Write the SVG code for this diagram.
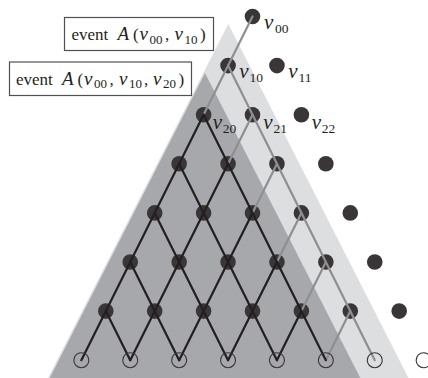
<svg xmlns="http://www.w3.org/2000/svg" width="428" height="378" viewBox="0 0 428 378">
<style>
.bg{fill:#ffffff}
.tl{fill:#dddee0}
.td{fill:#a7a8ab}
.dot{fill:#3a3637}
.leaf{fill:none;stroke:#3a3637;stroke-width:1.1}
.gl{stroke:#8f8f92;stroke-width:2.2;fill:none;stroke-linecap:round}
.bl{stroke:#231f20;stroke-width:2.2;fill:none;stroke-linecap:round}
.box{fill:#ffffff;stroke:#505050;stroke-width:1.2}
.bt{font-family:"Liberation Serif","DejaVu Serif",serif;font-size:17px;fill:#231f20}
.bi{font-style:italic;font-size:19px}
.bs{font-size:13px}
.nl{font-family:"Liberation Serif","DejaVu Serif",serif;font-style:italic;font-size:21px;fill:#231f20}
.ns{font-style:normal;font-size:13.5px}
</style>
<rect class="bg" x="0" y="0" width="428" height="378"/>
<g id="regions">
<polygon id="region-light" class="tl" points="228.3,24 408.5,378 48,378"/>
<polygon id="region-dark" class="td" points="205,73 360.3,378 49.7,378"/>
</g>
<g id="nodes">
<g id="v00"><circle class="dot" cx="252.5" cy="16.5" r="7.8"/><text class="nl" x="264" y="28.5">v<tspan class="ns" x="275" y="32.5">00</tspan></text></g>
<g id="v10"><circle class="dot" cx="228.05" cy="65.6" r="7.8"/><text class="nl" x="239.3" y="78">v<tspan class="ns" x="249.5" y="82">10</tspan></text></g>
<g id="v11"><circle class="dot" cx="276.95" cy="65.6" r="7.8"/><text class="nl" x="288.3" y="78">v<tspan class="ns" x="298.5" y="82">11</tspan></text></g>
<g id="v20"><circle class="dot" cx="203.6" cy="114.7" r="7.8"/><text class="nl" x="212.7" y="129">v<tspan class="ns" x="222.8" y="133">20</tspan></text></g>
<g id="v21"><circle class="dot" cx="252.5" cy="114.7" r="7.8"/><text class="nl" x="263.3" y="129">v<tspan class="ns" x="273.4" y="133">21</tspan></text></g>
<g id="v22"><circle class="dot" cx="301.4" cy="114.7" r="7.8"/><text class="nl" x="311.7" y="129">v<tspan class="ns" x="321.8" y="133">22</tspan></text></g>
<g id="row3">
<circle class="dot" cx="179.15" cy="163.8" r="7.8"/><circle class="dot" cx="228.05" cy="163.8" r="7.8"/><circle class="dot" cx="276.95" cy="163.8" r="7.8"/><circle class="dot" cx="325.85" cy="163.8" r="7.8"/>
</g>
<g id="row4">
<circle class="dot" cx="154.7" cy="212.9" r="7.8"/><circle class="dot" cx="203.6" cy="212.9" r="7.8"/><circle class="dot" cx="252.5" cy="212.9" r="7.8"/><circle class="dot" cx="301.4" cy="212.9" r="7.8"/><circle class="dot" cx="350.3" cy="212.9" r="7.8"/>
</g>
<g id="row5">
<circle class="dot" cx="130.25" cy="262" r="7.8"/><circle class="dot" cx="179.15" cy="262" r="7.8"/><circle class="dot" cx="228.05" cy="262" r="7.8"/><circle class="dot" cx="276.95" cy="262" r="7.8"/><circle class="dot" cx="325.85" cy="262" r="7.8"/><circle class="dot" cx="374.75" cy="262" r="7.8"/>
</g>
<g id="row6">
<circle class="dot" cx="105.8" cy="311.1" r="7.8"/><circle class="dot" cx="154.7" cy="311.1" r="7.8"/><circle class="dot" cx="203.6" cy="311.1" r="7.8"/><circle class="dot" cx="252.5" cy="311.1" r="7.8"/><circle class="dot" cx="301.4" cy="311.1" r="7.8"/><circle class="dot" cx="350.3" cy="311.1" r="7.8"/><circle class="dot" cx="399.2" cy="311.1" r="7.8"/>
</g>
</g>
<g id="connectors">
<g id="gray-paths">
<line class="gl" x1="252.5" y1="16.5" x2="203.6" y2="114.7"/>
<line class="gl" x1="228.05" y1="65.6" x2="374.75" y2="360.2"/>
<line class="gl" x1="252.5" y1="114.7" x2="228.05" y2="163.8"/>
<line class="gl" x1="276.95" y1="163.8" x2="252.5" y2="212.9"/>
<line class="gl" x1="301.4" y1="212.9" x2="276.95" y2="262"/>
<line class="gl" x1="325.85" y1="262" x2="301.4" y2="311.1"/>
<line class="gl" x1="350.3" y1="311.1" x2="325.85" y2="360.2"/>
</g>
<g id="black-paths">
<line class="bl" x1="203.6" y1="114.7" x2="325.85" y2="360.2"/>
<line class="bl" x1="179.15" y1="163.8" x2="276.95" y2="360.2"/>
<line class="bl" x1="154.7" y1="212.9" x2="228.05" y2="360.2"/>
<line class="bl" x1="130.25" y1="262" x2="179.15" y2="360.2"/>
<line class="bl" x1="105.8" y1="311.1" x2="130.25" y2="360.2"/>
<line class="bl" x1="203.6" y1="114.7" x2="81.35" y2="360.2"/>
<line class="bl" x1="228.05" y1="163.8" x2="130.25" y2="360.2"/>
<line class="bl" x1="252.5" y1="212.9" x2="179.15" y2="360.2"/>
<line class="bl" x1="276.95" y1="262" x2="228.05" y2="360.2"/>
<line class="bl" x1="301.4" y1="311.1" x2="276.95" y2="360.2"/>
</g>
</g>
<g id="leaves">
<circle class="leaf" cx="81.35" cy="360.2" r="7.5"/>
<circle class="leaf" cx="130.25" cy="360.2" r="7.5"/>
<circle class="leaf" cx="179.15" cy="360.2" r="7.5"/>
<circle class="leaf" cx="228.05" cy="360.2" r="7.5"/>
<circle class="leaf" cx="276.95" cy="360.2" r="7.5"/>
<circle class="leaf" cx="325.85" cy="360.2" r="7.5"/>
<circle class="leaf" cx="374.75" cy="360.2" r="7.5"/>
<circle class="leaf" cx="423.65" cy="360.2" r="7.5"/>
</g>
<g id="label-event-2">
<rect class="box" x="64.5" y="17.5" width="149" height="33"/>
<text class="bt" y="40"><tspan x="71.5">event</tspan><tspan class="bi" x="117.5">A</tspan><tspan x="133">(</tspan><tspan class="bi" x="139.5">v</tspan><tspan class="bs" x="149.5" y="43.5">00</tspan><tspan x="165" y="40">,</tspan><tspan class="bi" x="174.5">v</tspan><tspan class="bs" x="184.5" y="43.5">10</tspan><tspan x="200" y="40">)</tspan></text>
</g>
<g id="label-event-3">
<rect class="box" x="9.5" y="62" width="182" height="33.5"/>
<text class="bt" y="84.5"><tspan x="16">event</tspan><tspan class="bi" x="62">A</tspan><tspan x="77.5">(</tspan><tspan class="bi" x="84">v</tspan><tspan class="bs" x="94" y="88">00</tspan><tspan x="109.5" y="84.5">,</tspan><tspan class="bi" x="119">v</tspan><tspan class="bs" x="129" y="88">10</tspan><tspan x="144" y="84.5">,</tspan><tspan class="bi" x="153">v</tspan><tspan class="bs" x="163" y="88">20</tspan><tspan x="178.5" y="84.5">)</tspan></text>
</g>
</svg>
